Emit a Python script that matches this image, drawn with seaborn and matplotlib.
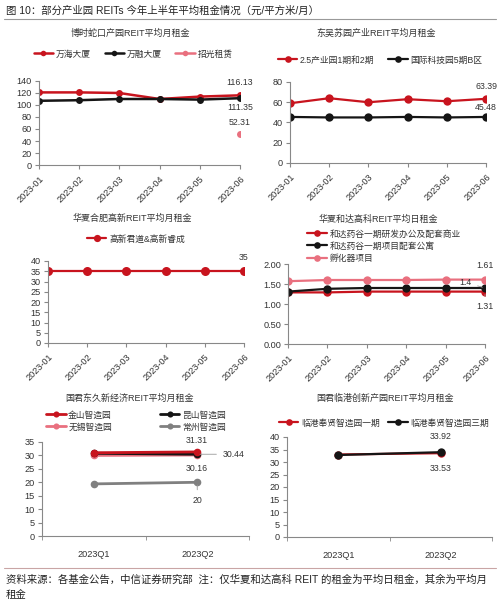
import numpy as np
import pandas as pd
import matplotlib
matplotlib.use("Agg")
import matplotlib.pyplot as plt
import seaborn as sns

sns.set_style("ticks")
plt.rcParams["font.family"] = ["Liberation Sans", "Noto Sans CJK SC", "DejaVu Sans"]
plt.rcParams["axes.unicode_minus"] = False

RED = "#C8141E"
BLACK = "#151515"
PINK = "#E9707F"
GRAY = "#808080"
TXT = "#333333"
FS = 6.3

# ---- data ----
months = ["2023-01", "2023-02", "2023-03", "2023-04", "2023-05", "2023-06"]
quarters = ["2023Q1", "2023Q2"]

wanhai = [121, 121, 120, 110, 114, 116.13]
wanrong = [107, 108, 110, 110, 109, 111.35]
zhaoguang = [np.nan, np.nan, np.nan, np.nan, np.nan, 52.31]

sz_25 = [59, 64, 60, 63, 61, 63.39]
sz_5b = [45.5, 45, 45, 45.5, 45, 45.48]

hefei = [35, 35, 35, 35, 35, 35]

heda_office = [1.29, 1.29, 1.31, 1.31, 1.31, 1.31]
heda_apt = [1.31, 1.38, 1.40, 1.40, 1.40, 1.40]
heda_incub = [1.57, 1.60, 1.60, 1.60, 1.61, 1.61]

jinshan = [31.0, 31.31]
kunshan = [30.8, 30.44]
wuxi = [30.0, 30.16]
changzhou = [19.4, 20.0]

lingang1 = [33.0, 33.53]
lingang3 = [32.8, 33.92]

W, H = 500, 602
fig = plt.figure(figsize=(W / 100, H / 100), dpi=100)


def rect(l, t, r, b):
    return [l / W, 1 - b / H, (r - l) / W, (b - t) / H]


def fx(x):
    return x / W


def fy(y):
    return 1 - y / H


def long_df(cats, series):
    rows = []
    for name, vals in series.items():
        for c, v in zip(cats, vals):
            rows.append({"cat": c, "val": v, "series": name})
    return pd.DataFrame(rows)


def panel(box, cats, series, colors, ylim, yticks, fmt, lw=1.6, ms=5,
          quarterly=False):
    ax = fig.add_axes(rect(*box))
    df = long_df(cats, series)
    sns.lineplot(data=df, x="cat", y="val", hue="series", palette=colors,
                 marker="o", markersize=ms, markeredgewidth=0, linewidth=lw,
                 sort=False, ax=ax, legend=True)
    ax.set_ylim(*ylim)
    ax.set_yticks(yticks)
    ax.set_yticklabels([fmt.format(v) for v in yticks])
    ax.set_xlabel("")
    ax.set_ylabel("")
    if quarterly:
        ax.set_xlim(-0.5, len(cats) - 0.5)
        ax.set_xticks(range(len(cats)))
        ax.set_xticklabels(cats)
        ax.tick_params(axis="x", length=0, pad=10)
        ax.set_xticks(np.arange(-0.5, len(cats), 1.0), minor=True)
        ax.tick_params(axis="x", which="minor", length=3, color="#888888")
    else:
        ax.set_xlim(0, len(cats) - 1)
        ax.set_xticks(range(len(cats)))
        ax.set_xticklabels(cats, rotation=45, ha="right",
                           rotation_mode="anchor")
        ax.tick_params(axis="x", length=3, color="#888888")
    ax.tick_params(axis="y", length=3, color="#888888", pad=2)
    ax.tick_params(labelsize=FS + 0.3, labelcolor=TXT)
    sns.despine(ax=ax)
    for s in ["left", "bottom"]:
        ax.spines[s].set_color("#888888")
        ax.spines[s].set_linewidth(0.8)
    ax.get_legend().remove()
    ax.patch.set_alpha(0)
    return ax


def legend(ax, x, y, ncol, loc="center", colsp=1.2, order=None):
    h, l = ax.get_legend_handles_labels()
    if order is not None:
        h = [h[i] for i in order]
        l = [l[i] for i in order]
    ax.legend(h, l, loc=loc, bbox_to_anchor=(fx(x), fy(y)),
              bbox_transform=fig.transFigure, ncol=ncol, frameon=False,
              fontsize=FS, handlelength=2.2, columnspacing=colsp,
              handletextpad=0.3, labelspacing=0.35, borderpad=0,
              labelcolor=TXT, markerscale=0.8)


def note(ax, x, y, text, dx, dy, line=False):
    kw = dict(textcoords="offset points", fontsize=FS, color=TXT,
              ha="center", va="center")
    if line:
        kw["arrowprops"] = dict(arrowstyle="-", color="#999999", lw=0.6,
                                shrinkA=2, shrinkB=2)
    ax.annotate(text, (x, y), xytext=(dx, dy), **kw)


def title(x, y, text):
    fig.text(fx(x), fy(y), text, fontsize=FS + 0.2, color=TXT,
             ha="center", va="center")


# header
fig.text(fx(6), fy(11), "图 10：部分产业园 REITs 今年上半年平均租金情况（元/平方米/月）",
         fontsize=7.5, color="#222222", va="center", ha="left")
fig.add_artist(plt.Line2D([fx(4), fx(496)], [fy(19), fy(19)],
                          color="#999999", lw=0.8))

# panel 1
title(130, 33, "博时蛇口产园REIT平均月租金")
ax1 = panel((39, 81, 240, 165), months,
            {"万海大厦": wanhai, "万融大厦": wanrong, "招光租赁": zhaoguang},
            [RED, BLACK, PINK], (0, 140), list(range(0, 141, 20)), "{:d}",
            lw=1.8, ms=5)
legend(ax1, 133, 54, 3, colsp=1.6)
note(ax1, 5, wanhai[5], f"{wanhai[5]:.2f}", 0, 9)
note(ax1, 5, wanrong[5], f"{wanrong[5]:.2f}", 0, -7)
note(ax1, 5, zhaoguang[5], f"{zhaoguang[5]:.2f}", 0, 8)

# panel 2
title(376, 33, "东吴苏园产业REIT平均月租金")
ax2 = panel((290, 82, 486, 163), months,
            {"2.5产业园1期和2期": sz_25, "国际科技园5期B区": sz_5b},
            [RED, BLACK], (0, 80), list(range(0, 81, 20)), "{:d}",
            lw=1.6, ms=6)
legend(ax2, 380, 60, 2, colsp=1.6)
note(ax2, 5, sz_25[5], f"{sz_25[5]:.2f}", 0, 9)
note(ax2, 5, sz_5b[5], f"{sz_5b[5]:.2f}", 0, 7)

# panel 3
title(132, 218, "华夏合肥高新REIT平均月租金")
ax3 = panel((48, 261, 244, 343), months, {"高新君道&高新睿成": hefei},
            [RED], (0, 40), list(range(0, 41, 5)), "{:d}", lw=1.6, ms=6.5)
legend(ax3, 136, 239, 1)
note(ax3, 5, hefei[5], f"{hefei[5]:d}", 0, 10)

# panel 4
title(378, 219, "华夏和达高科REIT平均日租金")
ax4 = panel((288, 264, 485, 344), months,
            {"和达药谷一期研发办公及配套商业": heda_office,
             "和达药谷一期项目配套公寓": heda_apt,
             "孵化器项目": heda_incub},
            [RED, BLACK, PINK], (0, 2), [0, 0.5, 1.0, 1.5, 2.0], "{:.2f}",
            lw=1.6, ms=6)
legend(ax4, 303, 246, 1, loc="center left")
note(ax4, 5, heda_incub[5], f"{heda_incub[5]:.2f}", 0, 10)
note(ax4, 5, heda_apt[5], f"{heda_apt[5]:g}", -14, 4, line=True)
note(ax4, 5, heda_office[5], f"{heda_office[5]:.2f}", 0, -11, line=True)

# panel 5
title(130, 398, "国君东久新经济REIT平均月租金")
ax5 = panel((42, 442, 249, 536), quarters,
            {"常州智造园": changzhou, "无锡智造园": wuxi,
             "昆山智造园": kunshan, "金山智造园": jinshan},
            [GRAY, PINK, BLACK, RED], (0, 35), list(range(0, 36, 5)), "{:d}",
            lw=2.0, ms=5.5, quarterly=True)
legend(ax5, 136, 421, 2, colsp=5.5, order=[3, 1, 2, 0])
note(ax5, 1, jinshan[1], f"{jinshan[1]:.2f}", 0, 8.5)
note(ax5, 1, kunshan[1], f"{kunshan[1]:.2f}", 26, 0, line=True)
note(ax5, 1, wuxi[1], f"{wuxi[1]:.2f}", 0, -10)
note(ax5, 1, changzhou[1], f"{changzhou[1]:g}", 0, -13, line=True)

# panel 6
title(385, 398, "国君临港创新产园REIT平均月租金")
ax6 = panel((287, 437, 492, 537), quarters,
            {"临港奉贤智造园一期": lingang1, "临港奉贤智造园三期": lingang3},
            [RED, BLACK], (0, 40), list(range(0, 41, 5)), "{:d}",
            lw=1.6, ms=6, quarterly=True)
legend(ax6, 384, 423, 2, colsp=1.0)
note(ax6, 1, lingang3[1], f"{lingang3[1]:.2f}", 0, 11)
note(ax6, 1, lingang1[1], f"{lingang1[1]:.2f}", 0, -11)

# footer
fig.add_artist(plt.Line2D([fx(4), fx(496)], [fy(568), fy(568)],
                          color="#C9A5A5", lw=0.8))
fig.text(fx(6), fy(580),
         "资料来源：各基金公告，中信证券研究部  注：仅华夏和达高科 REIT 的租金为平均日租金，其余为平均月",
         fontsize=7.5, color="#222222", ha="left", va="center")
fig.text(fx(6), fy(595), "租金", fontsize=7.5, color="#222222",
         ha="left", va="center")

fig.savefig("out.png", dpi=100, facecolor="white")
